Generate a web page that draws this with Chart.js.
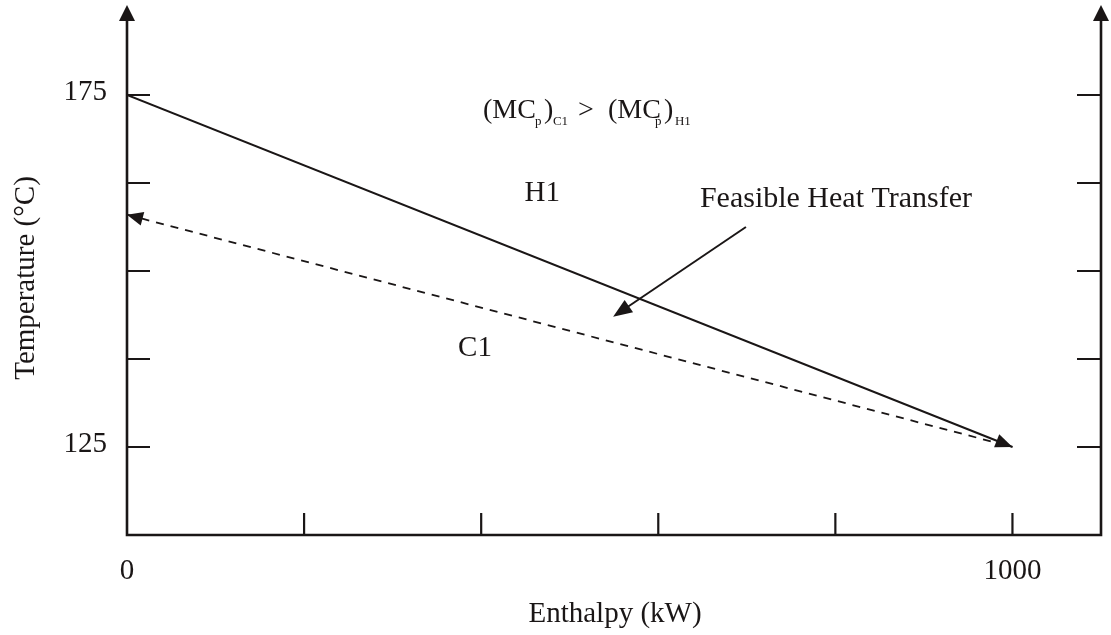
<!DOCTYPE html>
<html>
<head>
<meta charset="utf-8">
<script src="https://cdn.jsdelivr.net/npm/chart.js@4.4.1/dist/chart.umd.min.js"></script>
<style>
  html, body { margin: 0; padding: 0; background: #ffffff; }
  #wrap { width: 1111px; height: 635px; }
</style>
</head>
<body>
<div id="wrap"><canvas id="c" width="1111" height="635"></canvas></div>
<script>
// ---- data ----
const enthalpy = [0, 1000];          // kW
const h1Temp = [175, 125];           // hot stream H1 (°C)
const c1Temp = [158, 125];           // cold stream C1 (°C)
const xTickValues = [200, 400, 600, 800, 1000];
const yTickValues = [125, 137.5, 150, 162.5, 175];
const xLabelValues = [0, 1000];
const xLabelTexts = ['0', '1000'];
const yLabelValues = [125, 175];
const yLabelTexts = ['125', '175'];
const xTitle = 'Enthalpy (kW)';
const yTitle = 'Temperature (°C)';
const h1Label = 'H1';
const c1Label = 'C1';
const feasibleLabel = 'Feasible Heat Transfer';
// annotation anchors in data units
const h1LabelAt = [469, 161];
const c1LabelAt = [393, 139];
const feasibleLabelAt = [647, 160.2];
const feasibleArrowFrom = [699, 156.25];
const feasibleArrowTo = [549, 143.5];
const formulaAt = [402, 171.7];

const FONT = '"Liberation Serif", "Times New Roman", serif';
const INK = '#1a1616';

function toPts(xs, ys) { return xs.map((x, i) => ({ x: x, y: ys[i] })); }

function arrowHead(ctx, tx, ty, fx, fy, len, half) {
  const a = Math.atan2(ty - fy, tx - fx);
  const bx = tx - len * Math.cos(a), by = ty - len * Math.sin(a);
  const nx = -Math.sin(a), ny = Math.cos(a);
  ctx.beginPath();
  ctx.moveTo(tx, ty);
  ctx.lineTo(bx + nx * half, by + ny * half);
  ctx.lineTo(bx - nx * half, by - ny * half);
  ctx.closePath();
  ctx.fill();
}

const decor = {
  id: 'decor',
  afterDraw(chart) {
    const ctx = chart.ctx;
    const xs = chart.scales.x, ys = chart.scales.y;
    const ca = chart.chartArea;
    const px = v => xs.getPixelForValue(v);
    const py = v => ys.getPixelForValue(v);
    const L = ca.left, R = ca.right, B = ca.bottom, T = ca.top;
    ctx.save();
    ctx.strokeStyle = INK; ctx.fillStyle = INK;
    ctx.lineCap = 'butt';
    // axes
    ctx.lineWidth = 2.6;
    ctx.beginPath();
    ctx.moveTo(L, T + 12); ctx.lineTo(L, B); ctx.lineTo(R, B); ctx.lineTo(R, T + 12);
    ctx.stroke();
    arrowHead(ctx, L, T - 2, L, B, 16, 8);
    arrowHead(ctx, R, T - 2, R, B, 16, 8);
    // ticks
    ctx.lineWidth = 2.2;
    ctx.beginPath();
    xTickValues.forEach(v => { const x = px(v); ctx.moveTo(x, B); ctx.lineTo(x, B - 22); });
    yTickValues.forEach(v => {
      const y = py(v);
      ctx.moveTo(L, y); ctx.lineTo(L + 23, y);
      ctx.moveTo(R, y); ctx.lineTo(R - 24, y);
    });
    ctx.stroke();
    // tick labels
    ctx.font = '29px ' + FONT;
    ctx.textBaseline = 'middle';
    ctx.textAlign = 'center';
    xLabelValues.forEach((v, i) => ctx.fillText(xLabelTexts[i], px(v), B + 36));
    ctx.textAlign = 'right';
    yLabelValues.forEach((v, i) => ctx.fillText(yLabelTexts[i], L - 20, py(v) - 3));
    // axis titles
    ctx.textAlign = 'center';
    ctx.fillText(xTitle, (L + R) / 2 + 1, B + 79);
    ctx.save();
    ctx.translate(26, (T + B) / 2 + 7);
    ctx.rotate(-Math.PI / 2);
    ctx.fillText(yTitle, 0, 0);
    ctx.restore();
    // stream labels
    ctx.fillText(h1Label, px(h1LabelAt[0]), py(h1LabelAt[1]));
    ctx.fillText(c1Label, px(c1LabelAt[0]), py(c1LabelAt[1]));
    ctx.textAlign = 'left';
    ctx.font = '30px ' + FONT;
    ctx.fillText(feasibleLabel, px(feasibleLabelAt[0]), py(feasibleLabelAt[1]));
    // formula (MCp)C1 > (MCp)H1
    const fx = px(formulaAt[0]), fy = py(formulaAt[1]);
    ctx.textBaseline = 'alphabetic';
    const big = '28px ' + FONT, small = '13px ' + FONT;
    const pieces = [
      ['(MC', 0, 0, big], ['p', 52, 7, small], [')', 61, 0, big], ['C1', 70, 7, small],
      ['>', 95, 0, big], ['(MC', 125, 0, big], ['p', 172, 7, small], [')', 181, 0, big], ['H1', 192, 7, small]
    ];
    pieces.forEach(p => { ctx.font = p[3]; ctx.fillText(p[0], fx + p[1], fy + p[2]); });
    // arrowheads on streams
    arrowHead(ctx, px(enthalpy[1]), py(h1Temp[1]), px(enthalpy[0]), py(h1Temp[0]), 17, 7);
    arrowHead(ctx, px(enthalpy[0]), py(c1Temp[0]), px(enthalpy[1]), py(c1Temp[1]), 16, 7);
    // feasible heat transfer arrow
    const ax0 = px(feasibleArrowFrom[0]), ay0 = py(feasibleArrowFrom[1]);
    const ax1 = px(feasibleArrowTo[0]), ay1 = py(feasibleArrowTo[1]);
    ctx.lineWidth = 2;
    ctx.beginPath();
    ctx.moveTo(ax0, ay0);
    const ang = Math.atan2(ay1 - ay0, ax1 - ax0);
    ctx.lineTo(ax1 - 12 * Math.cos(ang), ay1 - 12 * Math.sin(ang));
    ctx.stroke();
    arrowHead(ctx, ax1, ay1, ax0, ay0, 19, 7.5);
    ctx.restore();
  }
};

new Chart(document.getElementById('c'), {
  type: 'scatter',
  data: {
    datasets: [
      {
        label: 'H1',
        data: toPts(enthalpy, h1Temp),
        showLine: true,
        borderColor: INK,
        borderWidth: 2,
        pointRadius: 0
      },
      {
        label: 'C1',
        data: toPts(enthalpy, c1Temp),
        showLine: true,
        borderColor: INK,
        borderWidth: 1.8,
        borderDash: [8, 7],
        pointRadius: 0
      }
    ]
  },
  options: {
    responsive: false,
    animation: false,
    events: [],
    layout: { padding: { left: 127, right: 10, top: 7, bottom: 100 } },
    plugins: { legend: { display: false }, tooltip: { enabled: false } },
    scales: {
      x: { type: 'linear', min: 0, max: 1100, display: false },
      y: { type: 'linear', min: 112.5, max: 187.5, display: false }
    }
  },
  plugins: [decor]
});
</script>
</body>
</html>
